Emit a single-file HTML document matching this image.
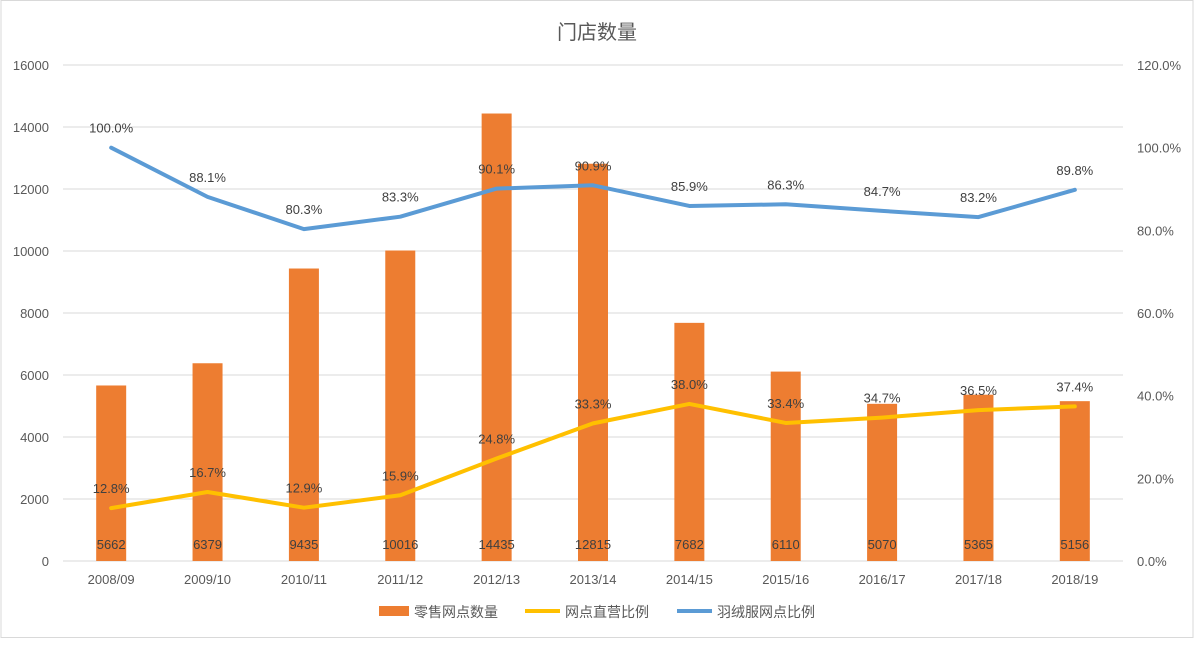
<!DOCTYPE html>
<html><head><meta charset="utf-8"><style>
body{margin:0;background:#fff;}
svg text{font-family:"Liberation Sans","Noto Sans CJK SC",sans-serif;}
</style></head><body>
<svg width="1195" height="640" xmlns="http://www.w3.org/2000/svg">
<rect x="1" y="0.5" width="1192" height="637" fill="#fff" stroke="#d9d9d9"/>
<text x="597" y="39" text-anchor="middle" font-size="20" fill="#595959">门店数量</text>
<g id="grid"></g><g id="bars"></g><g id="lines"></g><g id="labels"></g>
<g id="legend">
<rect x="379" y="606" width="30" height="10" fill="#ED7D31"/>
<text x="414" y="617" font-size="14" fill="#595959">零售网点数量</text>
<line x1="525" y1="611" x2="560" y2="611" stroke="#FFC000" stroke-width="4"/>
<text x="565" y="617" font-size="14" fill="#595959">网点直营比例</text>
<line x1="677" y1="611" x2="712" y2="611" stroke="#5B9BD5" stroke-width="4"/>
<text x="717" y="617" font-size="14" fill="#595959">羽绒服网点比例</text>
</g>
</svg>
<script>
const categories=["2008/09","2009/10","2010/11","2011/12","2012/13","2013/14","2014/15","2015/16","2016/17","2017/18","2018/19"];
const storeCounts=[5662,6379,9435,10016,14435,12815,7682,6110,5070,5365,5156];
const directRatio=[12.8,16.7,12.9,15.9,24.8,33.3,38.0,33.4,34.7,36.5,37.4];
const downRatio=[100.0,88.1,80.3,83.3,90.1,90.9,85.9,86.3,84.7,83.2,89.8];
const leftTicks=[0,2000,4000,6000,8000,10000,12000,14000,16000];
const rightTicks=[0,20,40,60,80,100,120];
const NS="http://www.w3.org/2000/svg";
const X0=63,X1=1123,Y0=561,Y1=65;
const bw=(X1-X0)/categories.length;
const xc=i=>X0+bw*(i+0.5);
const yL=v=>Y0-(v/16000)*(Y0-Y1);
const yR=v=>Y0-(v/120)*(Y0-Y1);
function mk(tag,attrs,parent,txt){const e=document.createElementNS(NS,tag);for(const k in attrs)e.setAttribute(k,attrs[k]);if(txt!==undefined)e.textContent=txt;document.getElementById(parent).appendChild(e);return e;}
leftTicks.forEach(t=>{
 const l=mk('line',{x1:X0,x2:X1,y1:yL(t),y2:yL(t),stroke:'#d9d9d9','stroke-width':1},'grid');
 
 
 const tx=mk('text',{x:49,y:yL(t)+5,'text-anchor':'end','font-size':13,fill:'#595959'},'grid',String(t));
 
 
});
rightTicks.forEach(t=>{
 const tx=mk('text',{x:1137,y:yR(t)+5,'font-size':13,fill:'#595959'},'grid',t.toFixed(1)+'%');
 
 
});
categories.forEach((c,i)=>{
 const tx=mk('text',{x:xc(i),y:584,'text-anchor':'middle','font-size':13,fill:'#595959'},'grid',c);
 
 
 const b=mk('rect',{x:xc(i)-15,y:yL(storeCounts[i]),width:30,height:Y0-yL(storeCounts[i]),fill:'#ED7D31'},'bars');
 
 
 const bl=mk('text',{x:xc(i),y:549,'text-anchor':'middle','font-size':13,fill:'#404040'},'labels',String(storeCounts[i]));
 
 
});
function line(arr,color,name){
 const p=mk('polyline',{points:arr.map((v,i)=>xc(i)+','+yR(v)).join(' '),fill:'none',stroke:color,'stroke-width':4,'stroke-linejoin':'round','stroke-linecap':'round'},'lines');
 
 
 arr.forEach((v,i)=>{
  const t=mk('text',{x:xc(i),y:yR(v)-15,'text-anchor':'middle','font-size':13,fill:'#404040'},'labels',v.toFixed(1)+'%');
  
  
 });
}
line(directRatio,'#FFC000','direct-ratio-line');
line(downRatio,'#5B9BD5','down-ratio-line');
</script>
</body></html>
